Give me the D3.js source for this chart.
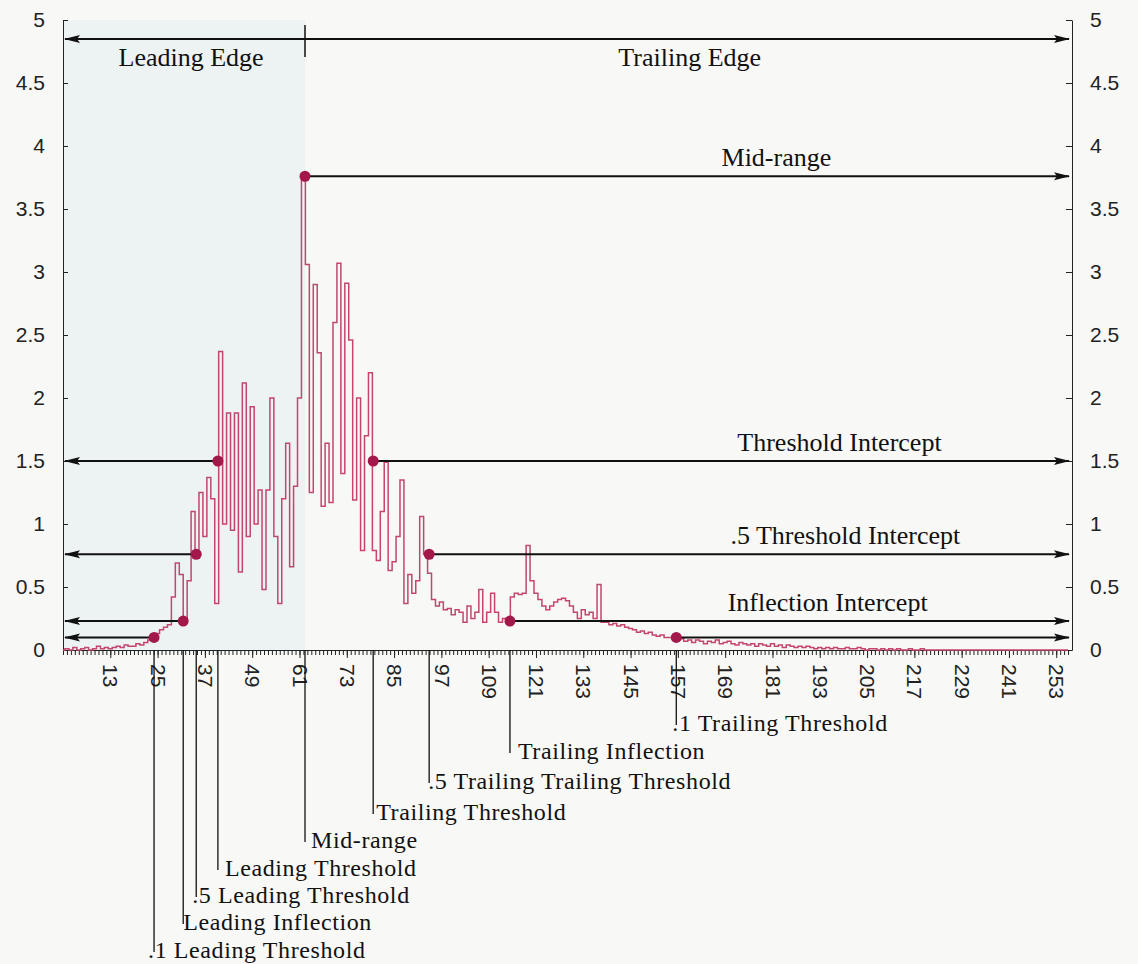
<!DOCTYPE html>
<html>
<head>
<meta charset="utf-8">
<script src="https://cdn.jsdelivr.net/npm/d3@7"></script>
<style>
  html, body { margin: 0; padding: 0; background: #f8f8f6; }
  svg { display: block; }
  .axis text { font-family: "Liberation Sans", Arial, sans-serif; font-size: 21px; fill: #222; }
  .axis path, .axis line { stroke: #222; }
  .note { font-family: "Liberation Serif", "Times New Roman", serif; font-size: 26px; fill: #111; }
  .drop { font-family: "Liberation Serif", "Times New Roman", serif; font-size: 24px; letter-spacing: 0.6px; fill: #111; }
</style>
</head>
<body>
<div id="chart"></div>
<script>
// Signal amplitude per bin (bins 1..256)
const signal = [
  0, 0.01, 0, 0.02, 0, 0.01, 0.02, 0, 0.01, 0.03, 0.01, 0.02, 0.01, 0.02, 0.03, 0.02, 0.04, 0.03,
  0.03, 0.05, 0.04, 0.06, 0.08, 0.1,
  0.13, 0.16, 0.18, 0.2, 0.42, 0.69, 0.6,
  0.25, 0.55, 1.1, 0.76, 1.25, 0.9, 1.37, 1.2, 0.37,
  2.37, 1.0, 1.88, 0.95, 1.88, 0.62, 2.12, 0.9, 1.93, 1.0,
  1.27, 0.48, 1.27, 2.0, 0.9, 0.37, 1.2, 1.64, 0.66, 1.3,
  2.0, 3.77, 3.06, 1.25, 2.9, 2.36, 1.14, 1.64, 1.17, 2.6,
  3.07, 1.4, 2.91, 2.46, 1.19, 2.0, 0.79, 1.7, 2.2, 0.79,
  0.71, 1.1, 1.49, 0.63, 0.7, 0.9, 1.35, 0.37, 0.6, 0.45,
  0.55, 1.06, 0.76, 0.61, 0.4, 0.35, 0.38, 0.32, 0.33, 0.28,
  0.32, 0.3, 0.22, 0.35, 0.25, 0.3, 0.48, 0.22, 0.3, 0.45,
  0.3, 0.22, 0.25, 0.25, 0.42, 0.45, 0.44, 0.45, 0.83, 0.55,
  0.45, 0.4, 0.35, 0.32, 0.35, 0.38, 0.4, 0.41, 0.39, 0.35,
  0.3, 0.25, 0.32, 0.28, 0.3, 0.25, 0.52, 0.22, 0.22, 0.2,
  0.21, 0.19, 0.2, 0.18, 0.17, 0.16, 0.14, 0.15, 0.13, 0.14,
  0.12, 0.11, 0.12, 0.1, 0.1, 0.09, 0.08, 0.09, 0.07, 0.08,
  0.06, 0.08, 0.07, 0.05, 0.07, 0.06, 0.08, 0.05, 0.06, 0.07,
  0.05, 0.04, 0.06, 0.05, 0.04, 0.05, 0.03, 0.05, 0.04, 0.03,
  0.05, 0.03, 0.04, 0.02, 0.04, 0.03, 0.02, 0.03, 0.02, 0.03,
  0.02, 0.01, 0.02, 0.01, 0.02, 0.01, 0.02, 0.01, 0.01, 0.02,
  0.01, 0.01, 0.02, 0.01, 0, 0.01, 0.01, 0, 0.01, 0,
  0.01, 0, 0.01, 0, 0, 0.01, 0, 0, 0.01, 0,
  0, 0, 0, 0, 0, 0, 0, 0, 0, 0,
  0, 0, 0, 0, 0, 0, 0, 0, 0, 0,
  0, 0, 0, 0, 0, 0, 0, 0, 0, 0,
  0, 0, 0, 0, 0, 0
];

// Characteristic points of the pulse
const markerNames = [".1 Leading Threshold", "Leading Inflection", ".5 Leading Threshold",
  "Leading Threshold", "Mid-range", "Trailing Threshold", ".5 Trailing Trailing Threshold",
  "Trailing Inflection", ".1 Trailing Threshold"];
const markerBins = [24.1, 31.5, 34.8, 40.3, 62.4, 79.7, 93.9, 114.4, 156.6];
const markerValues = [0.1, 0.23, 0.76, 1.5, 3.76, 1.5, 0.76, 0.23, 0.1];

// Horizontal intercept lines: label, level, and index of the left/right marker
const interceptNames = ["Threshold Intercept", ".5 Threshold Intercept", "Inflection Intercept", ""];
const interceptLevels = [1.5, 0.76, 0.23, 0.1];
const interceptPairs = [[3, 5], [2, 6], [1, 7], [0, 8]];

const edgeLevel = 4.85;
const yTicks = [0, 0.5, 1, 1.5, 2, 2.5, 3, 3.5, 4, 4.5, 5];
const xTickLabels = [13, 25, 37, 49, 61, 73, 85, 97, 109, 121, 133, 145, 157, 169, 181, 193, 205, 217, 229, 241, 253];

const width = 1138, height = 964;
const plot = { left: 63, right: 1072, top: 20, bottom: 650 };

const svg = d3.select("#chart").append("svg")
    .attr("width", width)
    .attr("height", height);

svg.append("rect").attr("width", width).attr("height", height).attr("fill", "#f8f8f6");

const x = d3.scaleLinear().domain([1, 257]).range([plot.left, plot.right]);
const y = d3.scaleLinear().domain([0, 5]).range([plot.bottom, plot.top]);

// Arrow head marker
svg.append("defs").append("marker")
    .attr("id", "arrow")
    .attr("viewBox", "0 -5 16 10")
    .attr("refX", 15).attr("refY", 0)
    .attr("markerUnits", "userSpaceOnUse")
    .attr("markerWidth", 16).attr("markerHeight", 10)
    .attr("orient", "auto-start-reverse")
    .append("path")
    .attr("d", "M0,-4L16,0L0,4L3,0Z")
    .attr("fill", "#111");

// Leading edge shading
svg.append("rect")
    .attr("x", plot.left)
    .attr("y", plot.top)
    .attr("width", x(markerBins[4]) - plot.left)
    .attr("height", plot.bottom - plot.top)
    .attr("fill", "#edf2f3");

// Axes
svg.append("g")
    .attr("class", "axis")
    .attr("transform", `translate(${plot.left},0)`)
    .call(d3.axisLeft(y).tickValues(yTicks).tickFormat(d => d).tickSize(-5).tickSizeOuter(0).tickPadding(18));

svg.append("g")
    .attr("class", "axis")
    .attr("transform", `translate(${plot.right},0)`)
    .call(d3.axisRight(y).tickValues(yTicks).tickFormat(d => d).tickSize(-6).tickSizeOuter(0).tickPadding(18));

// Dense ruler ticks along the bins
svg.append("g")
    .attr("class", "axis")
    .attr("transform", `translate(0,${plot.bottom})`)
    .call(d3.axisBottom(x).tickValues(signal.map((d, i) => i + 1)).tickFormat("").tickSize(5).tickSizeOuter(0));

const xLabels = svg.append("g")
    .attr("class", "axis")
    .attr("transform", `translate(0,${plot.bottom})`)
    .call(d3.axisBottom(x).tickValues(xTickLabels).tickSize(8).tickSizeOuter(0));
xLabels.select(".domain").remove();
xLabels.selectAll("text")
    .attr("transform", "rotate(90)")
    .attr("x", 14).attr("y", 0).attr("dy", "0.35em")
    .style("text-anchor", "start");

// Signal trace
const line = d3.line()
    .x((d, i) => x(i + 1))
    .y(d => y(d))
    .curve(d3.curveStep);

svg.append("path")
    .datum(signal)
    .attr("d", line)
    .attr("fill", "none")
    .attr("stroke", "#c4466f")
    .attr("stroke-width", 1.5);

// Leading / trailing edge arrow
const leftTip = plot.left + 2, rightTip = plot.right - 3;
svg.append("line")
    .attr("x1", leftTip).attr("x2", rightTip)
    .attr("y1", y(edgeLevel)).attr("y2", y(edgeLevel))
    .attr("stroke", "#111").attr("stroke-width", 2)
    .attr("marker-start", "url(#arrow)").attr("marker-end", "url(#arrow)");
svg.append("line")
    .attr("x1", x(markerBins[4])).attr("x2", x(markerBins[4]))
    .attr("y1", y(edgeLevel) - 14).attr("y2", y(edgeLevel) + 18)
    .attr("stroke", "#111").attr("stroke-width", 1.5);
svg.append("text").attr("class", "note")
    .attr("x", x(33.5)).attr("y", y(edgeLevel) + 27)
    .attr("text-anchor", "middle").text("Leading Edge");
svg.append("text").attr("class", "note")
    .attr("x", x(160)).attr("y", y(edgeLevel) + 27)
    .attr("text-anchor", "middle").text("Trailing Edge");

// Mid-range line
svg.append("line")
    .attr("x1", x(markerBins[4])).attr("x2", rightTip)
    .attr("y1", y(markerValues[4])).attr("y2", y(markerValues[4]))
    .attr("stroke", "#111").attr("stroke-width", 2)
    .attr("marker-end", "url(#arrow)");
svg.append("text").attr("class", "note")
    .attr("x", x(182)).attr("y", y(markerValues[4]) - 10)
    .attr("text-anchor", "middle").text("Mid-range");

// Intercept lines (left part to the leading point, right part from the trailing point)
const labelCentres = [198, 199.5, 195, 0];
interceptLevels.forEach((level, k) => {
    const [a, b] = interceptPairs[k];
    svg.append("line")
        .attr("x1", leftTip).attr("x2", x(markerBins[a]))
        .attr("y1", y(level)).attr("y2", y(level))
        .attr("stroke", "#111").attr("stroke-width", 2)
        .attr("marker-start", "url(#arrow)");
    svg.append("line")
        .attr("x1", x(markerBins[b])).attr("x2", rightTip)
        .attr("y1", y(level)).attr("y2", y(level))
        .attr("stroke", "#111").attr("stroke-width", 2)
        .attr("marker-end", "url(#arrow)");
    if (interceptNames[k]) {
        svg.append("text").attr("class", "note")
            .attr("x", x(labelCentres[k])).attr("y", y(level) - 10)
            .attr("text-anchor", "middle").text(interceptNames[k]);
    }
});

// Drop lines and labels for each characteristic point
const labelBaselines = [958, 930, 903, 876, 848, 820, 789, 759, 731];
const labelShift = [-6, 0, -4, 7, 6, 3, -1, 8, -4];
markerBins.forEach((b, i) => {
    svg.append("line")
        .attr("x1", x(b)).attr("x2", x(b))
        .attr("y1", plot.bottom).attr("y2", labelBaselines[i] - 6)
        .attr("stroke", "#111").attr("stroke-width", 1.3);
    svg.append("text").attr("class", "drop")
        .attr("x", x(b) + labelShift[i]).attr("y", labelBaselines[i])
        .text(markerNames[i]);
});

// Points
svg.append("g")
    .selectAll("circle")
    .data(markerBins)
    .enter()
    .append("circle")
    .attr("cx", d => x(d))
    .attr("cy", (d, i) => y(markerValues[i]))
    .attr("r", 5.5)
    .attr("fill", "#a3184b");
</script>
</body>
</html>
